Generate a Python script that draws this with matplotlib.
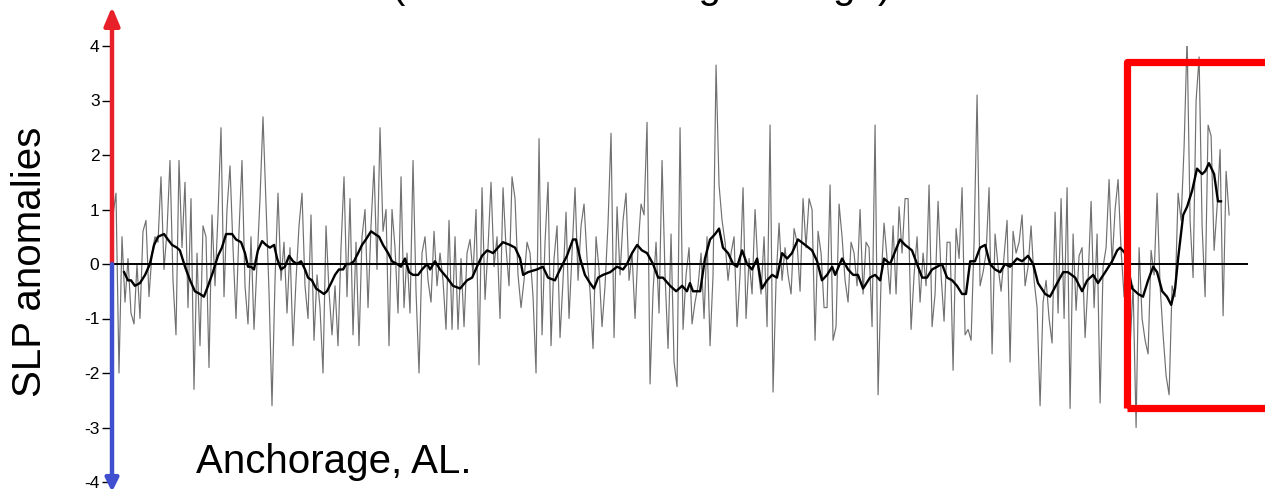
import numpy as np
import matplotlib
matplotlib.use("Agg")
import matplotlib.pyplot as plt
from matplotlib.patches import Rectangle

plt.rcParams['font.family'] = ['Liberation Sans', 'DejaVu Sans']
plt.rcParams['axes.unicode_minus'] = False

# ---------------- data ----------------
raw_part1 = [0.9, 1.3, -2.0, 0.5, -0.7, 0.1, -0.9, -1.1, 0.0, -1.0,
             0.6, 0.8, -0.6, 0.2, 0.5, 0.4, 1.6, -0.1, 0.6, 1.9,
             -0.3, -1.3, 1.9, 0.3, 1.5, -0.8, 1.2, -2.3, 0.2, -1.5,
             0.7, 0.5, -1.9, 0.9, -0.4, 0.9, 2.5, -0.6, 1.0, 1.8,
             0.3, -1.0, 0.6, 1.9, -0.4, -1.1, 0.5, -1.2, 0.0, 1.2,
             2.7, 1.1, -0.5, -2.6, -0.3, 1.3, -0.3, 0.4, -0.9, 0.3,
             -1.5, -0.3, 0.7, 1.3, -0.4, -1.0, 0.9, -1.4, -0.2, -0.8,
             -2.0, 0.7, -0.5, -1.3, -0.4, -1.5, 0.3, 1.6, -0.6, 1.2,
             -1.3, 0.4, -1.5, 0.5, 1.0, -0.8, 0.7, 1.8, -0.1, 2.5,
             0.6, 1.0, -1.5, 1.0, 0.3, -0.9, 1.6, -0.8, 0.2, -0.9,
             1.9, -0.5]
raw_part2 = [-2.0, 0.2, 0.5, -0.3, -0.7, 0.6, -0.4, 0.2, -0.3, -1.2,
             0.8, -1.2, 0.5, -1.2, 0.1, -1.15, 0.2, 0.45, -0.2, 1.0,
             -1.85, 1.4, -0.65, 0.3, 1.5, -0.05, 0.5, -1.0, 1.4, 0.3,
             -0.4, 1.6, 1.2, -0.2, -0.8, -0.3, 0.4, 0.2, -0.6, -2.0,
             2.3, -1.3, 0.4, 1.5, -1.5, 0.1, 0.7, -1.35, -0.3, 0.95,
             -1.0, 0.2, 1.4, -0.3, 0.7, 1.1, 0.1, -0.5, -1.55, 0.5,
             -0.1, -1.15, -0.4, 0.75, 2.4, -1.35, 1.05, -0.2, 0.8, 1.3,
             -0.3, 0.2, -1.0, 0.3, 1.1, 0.9, 2.6, -2.2, -0.5, 0.4,
             -0.9, 1.9, -0.2, -1.55, 0.55, -1.8, -2.25, 2.5, -1.2]
raw_part3 = [-0.2, 0.3, -1.1, -0.7, -0.4, 0.2, -1.0, 0.5, -1.5, -0.2,
             3.65, 1.45, 0.8, 0.4, -0.3, 0.2, 0.5, -1.15, -0.2, 1.4,
             -1.0, 0.1, -0.55, 1.0, -0.1, -0.55, 0.5, -1.15, 2.55, -2.35,
             -0.3, 0.75, -0.3, 0.3, -0.2, -0.55, 0.65, 0.4, -0.5, 1.2,
             0.3, 1.2, 1.0, -1.4, 0.6, 0.2, -0.8, -0.8, 1.45, -1.4,
             -1.15, 1.1, 0.5, -0.3, -0.7, 0.4, 0.2, -0.4, 1.0, -0.55,
             0.4, 0.3, -1.15, 2.55, -2.4, -0.3, 0.75, 0.1, -0.55, 0.7,
             -0.55, 1.05, 0.2, 1.2, 1.2, -1.2, -0.2, 0.5, -0.7, 0.2,
             -0.4, 1.45, -1.15, -0.55, 1.15, -0.2, -1.05, 0.4, 0.4, -1.95,
             0.65, 0.1, 1.4, -1.3, -1.2, -1.4, 0.4, 3.1]
raw_part4 = [-0.4, -0.15, 0.2, 1.4, -1.65, 0.55, -0.05, -0.5, 0.15, 0.8,
             -1.8, 0.6, 0.2, 0.4, 0.9, -0.4, -0.05, 0.7, -0.3, -0.8,
             -2.6, -0.7, -0.3, -1.0, -1.45, 0.95, -0.9, 1.2, -1.0, 1.4,
             -2.65, 0.55, -0.85, 0.15, 0.3, -1.35, -0.3, 1.15, -0.8, 0.55,
             -2.55, -0.05, 0.3, 1.55, 0.0, 1.0, 1.55, 0.25, -0.6, 0.9,
             -1.5, -0.4, -3.0, 0.3, -1.0, -1.4, -1.65, 0.25, -0.2, 1.3,
             -0.4, -1.3, -2.05, -2.4, -0.4, -0.6, 1.3, 0.8, 2.15, 4.15,
             0.8, -0.25, 3.0, 3.8, 0.7, -0.6, 2.55, 2.35, 0.25, 1.05,
             2.1, -0.95, 1.7, 0.9]
raw_values = raw_part1 + raw_part2 + raw_part3 + raw_part4

# running average: time (in months from series start) and value
smooth_month = [3.7, 5.0, 6.0, 7.3, 9.0, 10.7, 12.3, 13.7, 15.0, 17.0,
                18.3, 19.7, 21.3, 22.3, 24.0, 25.7, 27.3, 29.0, 30.3, 31.7,
                33.3, 35.0, 36.3, 37.7, 39.7, 41.0, 42.7, 44.0, 45.0, 46.0,
                47.0, 48.3, 49.7, 51.0, 52.3, 53.7, 54.7, 56.0, 57.3, 58.7,
                60.0, 61.3, 62.7, 64.0, 65.0, 66.3, 67.7, 69.0, 70.3, 71.3,
                72.7, 74.0, 75.3, 76.7, 77.7, 79.0, 80.3, 81.7, 83.0, 84.3,
                86.0, 87.3, 88.7, 90.0, 91.7, 93.0, 94.7, 96.0, 97.3, 98.7,
                100.0, 101.7, 103.0, 104.7, 105.7, 107.3, 109.0, 111.3, 113.3, 115.7,
                118.0, 119.7, 121.3, 123.0, 124.7, 126.7, 128.3, 130.0, 132.3, 134.0,
                135.7, 136.7, 138.3, 141.3, 143.3, 145.0, 147.3, 149.0, 151.3, 153.3,
                154.3, 155.7, 157.3, 159.0, 160.3, 161.7, 163.3, 165.7, 168.0, 170.0,
                171.3, 173.0, 174.7, 176.3, 178.0, 180.0, 181.7, 183.3, 185.7, 187.7,
                189.7, 191.3, 192.3, 193.3, 195.7, 197.3, 199.0, 200.7, 202.0, 203.3,
                205.0, 206.7, 208.0, 209.7, 211.3, 213.0, 214.7, 216.3, 218.0, 219.7,
                221.3, 223.0, 224.7, 226.3, 228.3, 230.7, 233.0, 234.7, 236.3, 238.0,
                239.7, 240.7, 243.0, 245.0, 246.7, 248.3, 250.0, 252.3, 254.0, 255.7,
                257.0, 259.0, 262.3, 264.0, 266.3, 268.0, 269.7, 271.3, 273.0, 274.7,
                276.3, 278.0, 279.7, 281.3, 283.0, 284.3, 285.7, 287.3, 289.0, 290.7,
                292.3, 294.0, 295.7, 297.3, 299.0, 301.3, 303.0, 305.0, 306.7, 308.3,
                310.7, 312.3, 314.7, 316.7, 318.3, 320.7, 323.0, 324.7, 326.7, 328.3,
                330.7, 333.0, 334.7, 335.7, 337.3, 339.7, 341.7, 343.3, 345.0, 346.7,
                348.0, 349.7, 351.3, 352.7, 354.0, 355.0, 356.7, 358.0, 359.7, 361.3,
                363.0, 364.0, 365.3, 367.0, 368.3, 369.3]
smooth_value = [-0.15, -0.3, -0.3, -0.4, -0.35, -0.2, 0.0, 0.35, 0.5, 0.55,
                0.45, 0.35, 0.3, 0.25, -0.05, -0.3, -0.5, -0.55, -0.6, -0.4,
                -0.15, 0.15, 0.3, 0.55, 0.55, 0.45, 0.4, 0.2, -0.05, -0.05,
                -0.1, 0.25, 0.42, 0.35, 0.3, 0.35, 0.1, -0.1, -0.05, 0.15,
                0.05, 0.0, 0.05, -0.1, -0.25, -0.3, -0.45, -0.5, -0.55, -0.5,
                -0.35, -0.2, -0.1, -0.1, 0.0, 0.0, 0.05, 0.2, 0.35, 0.45,
                0.6, 0.55, 0.5, 0.35, 0.2, 0.05, 0.0, -0.05, 0.1, -0.15,
                -0.2, -0.2, -0.1, 0.0, -0.1, 0.05, -0.1, -0.25, -0.4, -0.45,
                -0.3, -0.25, -0.05, 0.15, 0.25, 0.2, 0.3, 0.4, 0.35, 0.3,
                0.1, -0.2, -0.15, -0.1, -0.05, -0.25, -0.3, -0.1, 0.15, 0.45,
                0.45, 0.1, -0.2, -0.35, -0.45, -0.25, -0.2, -0.15, -0.05, -0.1,
                0.0, 0.2, 0.35, 0.25, 0.2, 0.0, -0.25, -0.25, -0.4, -0.5,
                -0.4, -0.5, -0.35, -0.5, -0.5, 0.1, 0.45, 0.55, 0.65, 0.3,
                0.2, 0.0, -0.05, 0.25, 0.0, -0.1, 0.1, -0.45, -0.3, -0.2,
                -0.25, 0.2, 0.1, 0.2, 0.45, 0.35, 0.25, 0.05, -0.3, -0.2,
                -0.05, -0.2, 0.1, -0.1, -0.2, -0.2, -0.45, -0.25, -0.2, -0.3,
                0.1, 0.0, 0.45, 0.35, 0.25, 0.0, -0.25, -0.25, -0.1, -0.05,
                0.0, -0.25, -0.3, -0.4, -0.55, -0.55, 0.05, 0.05, 0.3, 0.35,
                0.0, -0.1, -0.15, 0.0, -0.05, 0.1, 0.05, 0.15, 0.0, -0.35,
                -0.55, -0.6, -0.35, -0.15, -0.15, -0.25, -0.5, -0.3, -0.2, -0.35,
                -0.15, 0.05, 0.25, 0.3, 0.2, -0.45, -0.55, -0.6, -0.3, -0.05,
                -0.15, -0.5, -0.6, -0.75, -0.45, 0.1, 0.9, 1.05, 1.35, 1.75,
                1.65, 1.7, 1.85, 1.65, 1.15, 1.15]

y_ticks = [-4, -3, -2, -1, 0, 1, 2, 3, 4]
y_label = "SLP anomalies"
station_label = "Anchorage, AL."
title_text = "(12-month running average)"

# ---------------- figure ----------------
W, H = 1265, 495
fig = plt.figure(figsize=(W / 100, H / 100), dpi=100)
ax = fig.add_axes([112 / W, 1 - 482 / H, (1248 - 112) / W, (482 - 46) / H])
ax.patch.set_alpha(0)

months = np.arange(len(raw_values))
ax.plot(months, raw_values, color='#707070', lw=0.85, zorder=2)
ax.axhline(0, color='black', lw=1.4, zorder=3)
ax.plot(smooth_month, smooth_value, color='black', lw=1.7, zorder=4)

ax.set_xlim(-0.33, 378.3)
ax.set_ylim(-4, 4)
for s in ['top', 'right', 'bottom', 'left']:
    ax.spines[s].set_visible(False)
ax.set_xticks([])
ax.set_yticks(y_ticks)
ax.set_yticklabels([str(t) for t in y_ticks])
ax.tick_params(axis='y', length=7, width=1.0, labelsize=12.5, pad=2, colors='black')

tr = ax.get_yaxis_transform()
arrow_kw = dict(shrinkA=0, shrinkB=0, lw=3.2)
ax.annotate('', xy=(0, 4.72), xytext=(0, 0), xycoords=tr, textcoords=tr,
            arrowprops=dict(arrowstyle='-|>,head_length=1.0,head_width=0.42',
                            mutation_scale=11, color='#e8202a', **arrow_kw),
            annotation_clip=False, zorder=5)
ax.annotate('', xy=(0, -4.18), xytext=(0, 0), xycoords=tr, textcoords=tr,
            arrowprops=dict(arrowstyle='-|>,head_length=0.7,head_width=0.35',
                            mutation_scale=11, color='#3f4fd0', **arrow_kw),
            annotation_clip=False, zorder=5)

# red highlight frame (annotation)
rect = Rectangle((1127 / W, 1 - 408 / H), (1320 - 1127) / W, (408 - 61.5) / H,
                 transform=fig.transFigure, fill=False, ec='#ff0000', lw=5.2,
                 joinstyle='round', zorder=10)
fig.patches.append(rect)

fig.text(30 / W, 1 - 262 / H, y_label, rotation=90, fontsize=29,
         ha='center', va='center')
fig.text(196 / W, 1 - 473 / H, station_label, fontsize=29,
         ha='left', va='baseline')
fig.text(642 / W, 1 + 2.4 / H, title_text, fontsize=29,
         ha='center', va='baseline')

fig.savefig('out.png', dpi=100)
